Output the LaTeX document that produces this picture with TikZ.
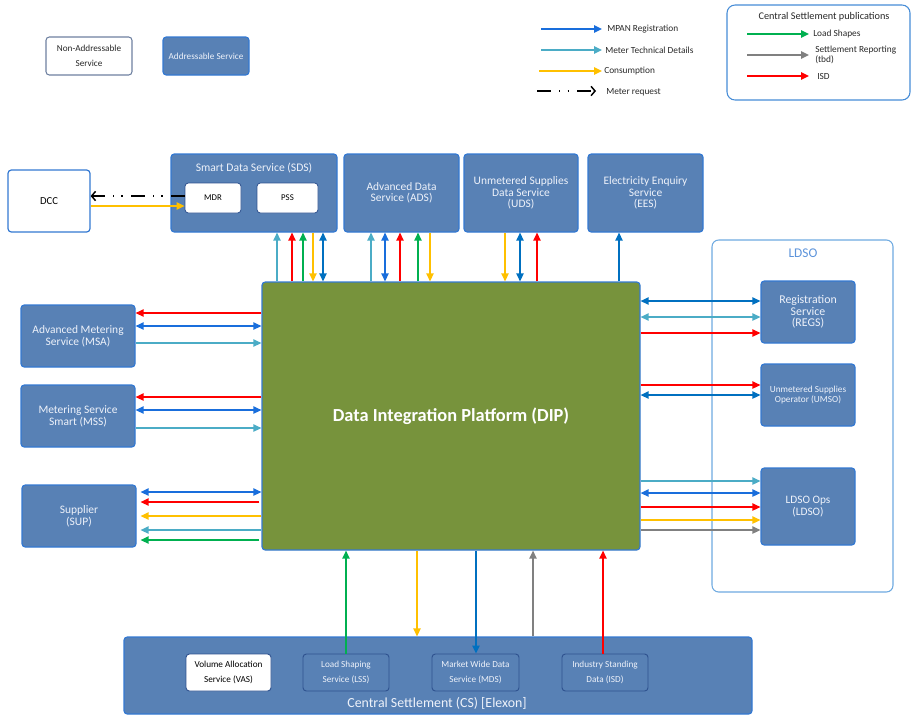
\documentclass[tikz,border=0pt]{standalone}
\usepackage{fontspec}
\setmainfont{Carlito}
\usetikzlibrary{arrows.meta}
\definecolor{svc}{RGB}{88,129,181}
\definecolor{svcedge}{RGB}{52,121,210}
\definecolor{dipfill}{RGB}{119,147,60}
\definecolor{subedge}{RGB}{47,82,143}
\definecolor{cMP}{RGB}{25,110,220}
\definecolor{cMT}{RGB}{75,172,198}
\definecolor{cCO}{RGB}{255,192,0}
\definecolor{cLS}{RGB}{0,176,80}
\definecolor{cSR}{RGB}{128,128,128}
\definecolor{cISD}{RGB}{255,0,0}
\definecolor{cEE}{RGB}{0,112,192}
\definecolor{ldsoedge}{RGB}{110,170,225}
\definecolor{pubedge}{RGB}{70,140,215}
\definecolor{naedge}{RGB}{110,128,160}
\definecolor{txt}{RGB}{40,40,40}
\definecolor{svctxt}{RGB}{238,242,250}
\begin{document}
\begin{tikzpicture}[x=0.75pt,y=-0.75pt,
  sz/.style 2 args={minimum width=#1*0.75pt,minimum height=#2*0.75pt},
  box/.style={draw=svcedge,fill=svc,rounded corners=2.5pt,line width=0.9pt,inner sep=0pt,align=center,text=svctxt},
  wbox/.style={draw=svcedge,fill=white,rounded corners=2.5pt,line width=0.9pt,inner sep=0pt,align=center,text=black},
  subbox/.style={draw=subedge,fill=svc,rounded corners=2.5pt,line width=0.7pt,inner sep=0pt,align=center,text=svctxt},
  fsmall/.style={font=\fontsize{6.9}{11}\selectfont},
  ftop/.style={font=\fontsize{8.6}{8.6}\selectfont},
  fleft/.style={font=\fontsize{8.6}{9}\selectfont},
  fleg/.style={font=\fontsize{7}{7.8}\selectfont,text=txt,anchor=west,inner sep=0pt,align=left},
  ln/.style={line width=1.1pt},
  sgl/.style={ln,-{Triangle[length=6pt,width=5.5pt]}},
  dbl/.style={ln,{Triangle[length=6pt,width=5.5pt]}-{Triangle[length=6pt,width=5.5pt]}},
  reqline/.style={line width=1.1pt,dash pattern=on 10.5pt off 6pt on 1pt off 5.5pt on 1pt off 6pt,-{Straight Barb[length=3pt,width=7pt]}},
]
\useasboundingbox (0,0) rectangle (912,715);

% ---------- legend ----------
\node[draw=naedge,fill=white,rounded corners=2.5pt,line width=0.8pt,inner sep=0pt,align=center,sz={86}{38},fsmall,text=txt] (nonaddr) at (89,56) {Non-Addressable\\Service};
\node[box,sz={86}{38},fsmall] (addr) at (206,56) {Addressable Service};

\coordinate (l1s) at (541,29); \coordinate (l1e) at (602,29);
\coordinate (l2s) at (541,50); \coordinate (l2e) at (602,50);
\coordinate (l3s) at (539,71); \coordinate (l3e) at (602,71);
\coordinate (l4s) at (537,91); \coordinate (l4e) at (596,91);
\draw[sgl,draw=cMP] (l1s) -- (l1e);
\draw[sgl,draw=cMT] (l2s) -- (l2e);
\draw[sgl,draw=cCO] (l3s) -- (l3e);
\draw[reqline] (l4s) -- (l4e);
\node[fleg] (t1) at (607,29) {MPAN Registration};
\node[fleg] (t2) at (605,50) {Meter Technical Details};
\node[fleg] (t3) at (604,71) {Consumption};
\node[fleg] (t4) at (606,92) {Meter request};

\node[draw=pubedge,fill=white,rounded corners=6pt,line width=0.8pt,sz={183}{95}] (pub) at (818.5,52.5) {};
\node[font=\fontsize{7.7}{8}\selectfont,text=txt,inner sep=0pt] (pubt) at (824,17) {Central Settlement publications};
\coordinate (p1s) at (747,34); \coordinate (p1e) at (809,34);
\coordinate (p2s) at (747,55); \coordinate (p2e) at (809,55);
\coordinate (p3s) at (747,76); \coordinate (p3e) at (809,76);
\draw[sgl,draw=cLS] (p1s) -- (p1e);
\draw[sgl,draw=cSR] (p2s) -- (p2e);
\draw[sgl,draw=cISD] (p3s) -- (p3e);
\node[fleg] (pt1) at (813,34) {Load Shapes};
\node[fleg] (pt2) at (815,55) {Settlement Reporting\\(tbd)};
\node[fleg] (pt3) at (817,76) {ISD};

% ---------- top services ----------
\node[wbox,sz={82}{62},font=\fontsize{8}{9}\selectfont] (dcc) at (49,201) {DCC};
\node[box,sz={166}{78}] (sds) at (254,193) {};
\node[font=\fontsize{8.7}{9}\selectfont,text=svctxt,inner sep=0pt] (sdst) at (254,168) {Smart Data Service (SDS)};
\node[draw=subedge,fill=white,rounded corners=2.5pt,line width=0.6pt,inner sep=0pt,sz={56}{30},font=\fontsize{6.6}{8}\selectfont] (mdr) at (213,198) {MDR};
\node[draw=subedge,fill=white,rounded corners=2.5pt,line width=0.6pt,inner sep=0pt,sz={61}{30},font=\fontsize{6.6}{8}\selectfont] (pss) at (287.5,198) {PSS};
\node[box,sz={115}{78},ftop] (ads) at (401.5,193) {Advanced Data\\Service (ADS)};
\node[box,sz={114}{78},ftop] (uds) at (521,193) {Unmetered Supplies\\Data Service\\(UDS)};
\node[box,sz={115}{78},ftop] (ees) at (645.5,193) {Electricity Enquiry\\Service\\(EES)};

% ---------- DIP ----------
\node[draw=svcedge,fill=dipfill,rounded corners=2.5pt,line width=0.9pt,sz={378}{268},text=white,font=\fontsize{13.8}{15}\selectfont\bfseries] (dip) at (451,416) {Data Integration Platform (DIP)};

% ---------- left services ----------
\node[box,sz={114}{62},fleft] (msa) at (78,336) {Advanced Metering\\Service (MSA)};
\node[box,sz={114}{62},fleft] (mss) at (78,416) {Metering Service\\Smart (MSS)};
\node[box,sz={114}{62},fleft] (sup) at (79,516) {Supplier\\(SUP)};

% ---------- LDSO ----------
\node[draw=ldsoedge,fill=white,rounded corners=5pt,line width=0.8pt,sz={181}{352}] (ldso) at (802.5,416) {};
\node[font=\fontsize{10}{10}\selectfont,text=svcedge!80!white,inner sep=0pt] (ldsot) at (803,253) {LDSO};
\node[box,sz={94}{62},font=\fontsize{8.9}{8.6}\selectfont] (regs) at (808,312) {Registration\\Service\\(REGS)};
\node[box,sz={94}{62},font=\fontsize{6.95}{7.2}\selectfont] (umso) at (808,395) {Unmetered Supplies\\Operator (UMSO)};
\node[box,sz={94}{77},font=\fontsize{8.5}{8.6}\selectfont] (ops) at (808,506.5) {LDSO Ops\\(LDSO)};

% ---------- Central Settlement ----------
\node[box,sz={628}{77}] (cs) at (438,675.5) {};
\node[font=\fontsize{10.4}{11}\selectfont,text=svctxt,inner sep=0pt] (cst) at (437,703) {Central Settlement (CS) [Elexon]};
\node[draw=subedge,fill=white,rounded corners=2.5pt,line width=0.7pt,inner sep=0pt,align=center,text=black,sz={85}{37},fsmall] (vas) at (228.5,672.5) {Volume Allocation\\Service (VAS)};
\node[subbox,sz={86}{37},fsmall] (lss) at (346,672.5) {Load Shaping\\Service (LSS)};
\node[subbox,sz={87}{37},fsmall] (mds) at (475.5,672.5) {Market Wide Data\\Service (MDS)};
\node[subbox,sz={86}{37},fsmall] (isd) at (605,672.5) {Industry Standing\\Data (ISD)};

% ---------- DCC <-> SDS ----------
\draw[reqline] (mdr.west |- 0,196) -- (dcc.east |- 0,196);
\draw[sgl,draw=cCO] (dcc.east |- 0,206) -- (mdr.west |- 0,206);

% ---------- SDS <-> DIP ----------
\draw[sgl,draw=cMT] (dip.north -| 277,0) -- (sds.south -| 277,0);
\draw[sgl,draw=cISD] (dip.north -| 292,0) -- (sds.south -| 292,0);
\draw[sgl,draw=cLS] (dip.north -| 303,0) -- (sds.south -| 303,0);
\draw[sgl,draw=cCO] (sds.south -| 313,0) -- (dip.north -| 313,0);
\draw[dbl,draw=cEE] (sds.south -| 323,0) -- (dip.north -| 323,0);

% ---------- ADS <-> DIP ----------
\draw[sgl,draw=cMT] (dip.north -| 371,0) -- (ads.south -| 371,0);
\draw[dbl,draw=cMP] (ads.south -| 385,0) -- (dip.north -| 385,0);
\draw[sgl,draw=cISD] (dip.north -| 400,0) -- (ads.south -| 400,0);
\draw[sgl,draw=cLS] (dip.north -| 418,0) -- (ads.south -| 418,0);
\draw[sgl,draw=cCO] (ads.south -| 430,0) -- (dip.north -| 430,0);

% ---------- UDS <-> DIP ----------
\draw[sgl,draw=cCO] (uds.south -| 505,0) -- (dip.north -| 505,0);
\draw[dbl,draw=cEE] (uds.south -| 520,0) -- (dip.north -| 520,0);
\draw[sgl,draw=cISD] (dip.north -| 537,0) -- (uds.south -| 537,0);

% ---------- EES ----------
\draw[sgl,draw=cEE] (dip.north -| 619,0) -- (ees.south -| 619,0);

% ---------- left ----------
\draw[sgl,draw=cISD] (dip.west |- 0,313) -- (msa.east |- 0,313);
\draw[dbl,draw=cMP] (msa.east |- 0,326) -- (dip.west |- 0,326);
\draw[sgl,draw=cMT] (msa.east |- 0,343) -- (dip.west |- 0,343);

\draw[sgl,draw=cISD] (dip.west |- 0,397) -- (mss.east |- 0,397);
\draw[dbl,draw=cMP] (mss.east |- 0,410) -- (dip.west |- 0,410);
\draw[sgl,draw=cMT] (mss.east |- 0,428) -- (dip.west |- 0,428);

\draw[dbl,draw=cMP,shorten <=3pt] (sup.east |- 0,492) -- (dip.west |- 0,492);
\draw[sgl,draw=cISD,shorten <=1.5pt,shorten >=3pt] (dip.west |- 0,502) -- (sup.east |- 0,502);
\draw[sgl,draw=cCO,shorten >=3pt] (dip.west |- 0,516) -- (sup.east |- 0,516);
\draw[sgl,draw=cMT,shorten >=3pt] (dip.west |- 0,530) -- (sup.east |- 0,530);
\draw[sgl,draw=cLS,shorten <=1.5pt,shorten >=3pt] (dip.west |- 0,540) -- (sup.east |- 0,540);

% ---------- right ----------
\draw[dbl,draw=cEE] (dip.east |- 0,301) -- (regs.west |- 0,301);
\draw[dbl,draw=cMT] (dip.east |- 0,317) -- (regs.west |- 0,317);
\draw[sgl,draw=cISD] (dip.east |- 0,333) -- (regs.west |- 0,333);

\draw[sgl,draw=cISD] (dip.east |- 0,385) -- (umso.west |- 0,385);
\draw[dbl,draw=cEE] (dip.east |- 0,395) -- (umso.west |- 0,395);

\draw[sgl,draw=cMT] (dip.east |- 0,481) -- (ops.west |- 0,481);
\draw[dbl,draw=cMP] (dip.east |- 0,493) -- (ops.west |- 0,493);
\draw[sgl,draw=cISD] (dip.east |- 0,507) -- (ops.west |- 0,507);
\draw[sgl,draw=cCO] (dip.east |- 0,520) -- (ops.west |- 0,520);
\draw[sgl,draw=cSR] (dip.east |- 0,530) -- (ops.west |- 0,530);

% ---------- bottom ----------
\draw[sgl,draw=cLS] (lss.north -| 346,0) -- (dip.south -| 346,0);
\draw[sgl,draw=cCO] (dip.south -| 417,0) -- (cs.north -| 417,0);
\draw[sgl,draw=cEE] (dip.south -| 476,0) -- (mds.north -| 476,0);
\draw[sgl,draw=cSR] (cs.north -| 533,0) -- (dip.south -| 533,0);
\draw[sgl,draw=cISD] (isd.north -| 603,0) -- (dip.south -| 603,0);
\end{tikzpicture}
\end{document}
